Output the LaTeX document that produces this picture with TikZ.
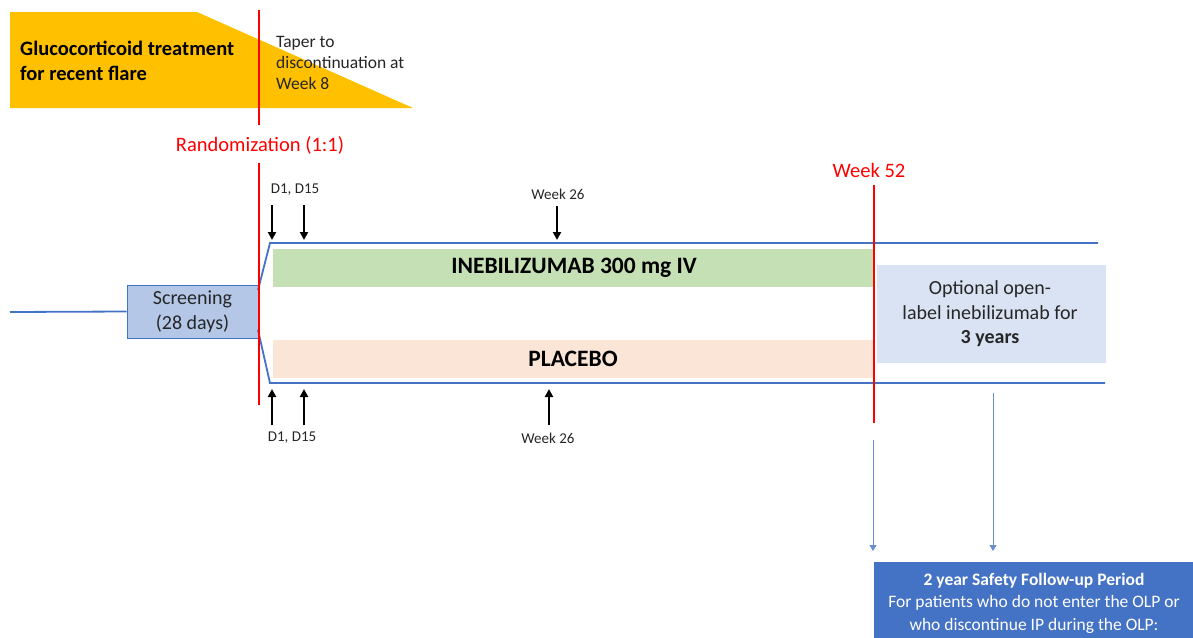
\documentclass[tikz,border=0pt]{standalone}
\usepackage{fontspec}
\setmainfont{Carlito}
\usetikzlibrary{arrows.meta}
\definecolor{gold}{HTML}{FFC000}
\definecolor{rline}{HTML}{FF0000}
\definecolor{bline}{HTML}{4472C4}
\definecolor{scrfill}{HTML}{B4C7E7}
\definecolor{grn}{HTML}{C5E0B4}
\definecolor{peach}{HTML}{FBE5D6}
\definecolor{olp}{HTML}{DAE3F3}
\definecolor{dkblue}{HTML}{4472C4}
\definecolor{txt}{HTML}{262626}
\tikzset{
  redln/.style={draw=rline, line width=2.6pt},
  blueln/.style={draw=bline, line width=1.8pt},
  dosearrow/.style={line width=2pt, -{Triangle[length=8pt,width=8pt]}},
  thinarrow/.style={draw=bline!80, line width=0.8pt, -{Triangle[length=6pt,width=7pt]}},
  small/.style={font=\fontsize{15}{17}\selectfont, text=txt, inner sep=0pt},
  lab/.style={font=\fontsize{20}{24.5}\selectfont, text=txt, align=center, inner sep=0pt},
  barlab/.style={font=\fontsize{23.5}{26}\selectfont\bfseries, text=black, inner sep=0pt},
}
\begin{document}
\begin{tikzpicture}[x=1pt,y=-1pt]
\useasboundingbox (0,0) rectangle (1193,637);
% glucocorticoid shape
\fill[gold] (10,12) -- (197,12) -- (413,108) -- (10,108) -- cycle;
\node[anchor=west, font=\fontsize{20.5}{25}\selectfont\bfseries, align=left, inner sep=0pt] (gc) at (20,61) {Glucocorticoid treatment\\for recent flare};
\node[anchor=west, font=\fontsize{17.5}{21}\selectfont, text=txt, align=left, inner sep=0pt] (taper) at (276,63) {Taper to\\discontinuation at\\Week 8};
% screening
\node[draw=bline, line width=1pt, fill=scrfill, minimum width=131pt, minimum height=53pt, inner sep=0pt, lab] (scr) at (192.5,311.5) {Screening\\(28 days)};
\coordinate (lstart) at (10,312);
\draw[blueln] (lstart) -- (scr.west);
% arms outline
\coordinate (tu) at (258,290);
\coordinate (tl) at (258,330);
\draw[blueln] (tu) -- (270,243) -- (1098,243);
\draw[blueln] (tl) -- (270,383) -- (1105,383);
% bars
\node[fill=grn, minimum width=600pt, minimum height=38pt, inner sep=0pt, anchor=north west] (gbar) at (273,249) {};
\node[barlab] (glab) at (574,268) {INEBILIZUMAB 300 mg IV};
\node[fill=peach, minimum width=600pt, minimum height=38pt, inner sep=0pt, anchor=north west] (pbar) at (273,340) {};
\node[barlab] (plab) at (573,359) {PLACEBO};
% OLP box
\node[fill=olp, minimum width=229pt, minimum height=98pt, inner sep=0pt, anchor=north west] (olpbox) at (877,265) {};
\node[lab] (olplab) at (990,314) {Optional open-\\label inebilizumab for\\\textbf{3 years}};
% red lines
\draw[redln] (259,10) -- (259,125);
\node[font=\fontsize{20.5}{24}\selectfont, text=rline, inner sep=0pt] (rand) at (260,145) {Randomization (1:1)};
\draw[redln] (259,163) -- (259,405);
\node[font=\fontsize{20.5}{24}\selectfont, text=rline, inner sep=0pt] (w52) at (869,170) {Week 52};
\draw[redln] (874,185) -- (874,423);
% dose arrows top
\node[small] (d1t) at (295,190) {D1, D15};
\coordinate (a1s) at (272,205); \coordinate (a1e) at (272,240);
\coordinate (a2s) at (304,205); \coordinate (a2e) at (304,240);
\draw[dosearrow] (a1s) -- (a1e);
\draw[dosearrow] (a2s) -- (a2e);
\node[small] (w26t) at (558,194) {Week 26};
\coordinate (a3s) at (557,206); \coordinate (a3e) at (557,240);
\draw[dosearrow] (a3s) -- (a3e);
% dose arrows bottom
\node[small] (d1b) at (292,438) {D1, D15};
\coordinate (b1s) at (272,425); \coordinate (b1e) at (272,389);
\coordinate (b2s) at (304,425); \coordinate (b2e) at (304,389);
\draw[dosearrow] (b1s) -- (b1e);
\draw[dosearrow] (b2s) -- (b2e);
\node[small] (w26b) at (548,438) {Week 26};
\coordinate (b3s) at (549,425); \coordinate (b3e) at (549,389);
\draw[dosearrow] (b3s) -- (b3e);
% follow-up box
\node[fill=dkblue, minimum width=320pt, minimum height=76pt, inner sep=0pt, anchor=north west] (fu) at (874,562) {};
\node[font=\fontsize{17.5}{22.5}\selectfont, text=white, align=center, inner sep=0pt] (fulab) at (1034,603) {\textbf{2 year Safety Follow-up Period}\\For patients who do not enter the OLP or\\who discontinue IP during the OLP:};
\coordinate (f1s) at (873,440); \coordinate (f1e) at (873,551);
\coordinate (f2s) at (993,393); \coordinate (f2e) at (993,551);
\draw[thinarrow] (f1s) -- (f1e);
\draw[thinarrow] (f2s) -- (f2e);
\end{tikzpicture}
\end{document}
